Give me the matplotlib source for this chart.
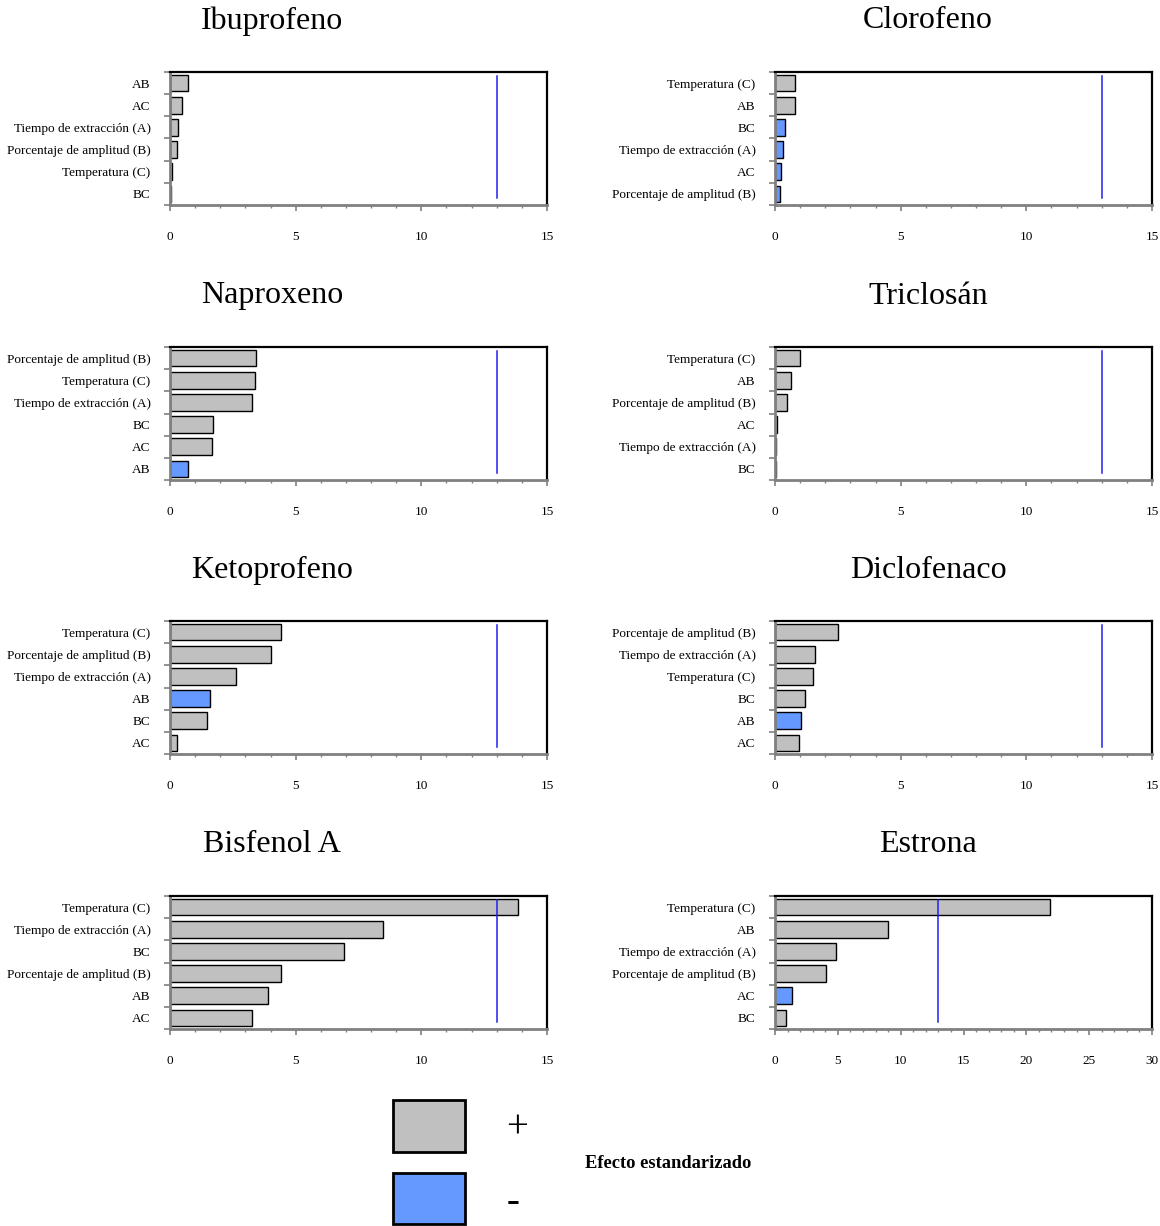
import matplotlib
matplotlib.use("Agg")
import matplotlib.pyplot as plt
from matplotlib.patches import Rectangle
from matplotlib.ticker import MultipleLocator, FixedLocator

plt.rcParams['font.family'] = ['Liberation Serif', 'DejaVu Serif']

GRAY = '#C0C0C0'
BLUE = '#6699FF'

titles = ["Ibuprofeno", "Clorofeno", "Naproxeno", "Triclosán",
          "Ketoprofeno", "Diclofenaco", "Bisfenol A", "Estrona"]

# factors, top to bottom
ibu_labels = ["AB", "AC", "Tiempo de extracción (A)", "Porcentaje de amplitud (B)", "Temperatura (C)", "BC"]
ibu_values = [0.72, 0.49, 0.31, 0.28, 0.08, 0.03]
ibu_neg = [False, False, False, False, False, False]

clo_labels = ["Temperatura (C)", "AB", "BC", "Tiempo de extracción (A)", "AC", "Porcentaje de amplitud (B)"]
clo_values = [0.81, 0.78, 0.41, 0.30, 0.23, 0.19]
clo_neg = [False, False, True, True, True, True]

nap_labels = ["Porcentaje de amplitud (B)", "Temperatura (C)", "Tiempo de extracción (A)", "BC", "AC", "AB"]
nap_values = [3.43, 3.37, 3.26, 1.70, 1.66, 0.71]
nap_neg = [False, False, False, False, False, True]

tri_labels = ["Temperatura (C)", "AB", "Porcentaje de amplitud (B)", "AC", "Tiempo de extracción (A)", "BC"]
tri_values = [0.98, 0.64, 0.47, 0.09, 0.04, 0.04]
tri_neg = [False, False, False, False, False, False]

ket_labels = ["Temperatura (C)", "Porcentaje de amplitud (B)", "Tiempo de extracción (A)", "AB", "BC", "AC"]
ket_values = [4.40, 4.00, 2.64, 1.61, 1.47, 0.27]
ket_neg = [False, False, False, True, False, False]

dic_labels = ["Porcentaje de amplitud (B)", "Tiempo de extracción (A)", "Temperatura (C)", "BC", "AB", "AC"]
dic_values = [2.52, 1.58, 1.50, 1.21, 1.03, 0.97]
dic_neg = [False, False, False, False, True, False]

bis_labels = ["Temperatura (C)", "Tiempo de extracción (A)", "BC", "Porcentaje de amplitud (B)", "AB", "AC"]
bis_values = [13.86, 8.47, 6.93, 4.43, 3.91, 3.27]
bis_neg = [False, False, False, False, False, False]

est_labels = ["Temperatura (C)", "AB", "Tiempo de extracción (A)", "Porcentaje de amplitud (B)", "AC", "BC"]
est_values = [21.9, 8.98, 4.88, 4.02, 1.34, 0.88]
est_neg = [False, False, False, False, True, False]

x_max = [15, 15, 15, 15, 15, 15, 15, 30]
critical = 13.0

panels = [
    (ibu_labels, ibu_values, ibu_neg),
    (clo_labels, clo_values, clo_neg),
    (nap_labels, nap_values, nap_neg),
    (tri_labels, tri_values, tri_neg),
    (ket_labels, ket_values, ket_neg),
    (dic_labels, dic_values, dic_neg),
    (bis_labels, bis_values, bis_neg),
    (est_labels, est_values, est_neg),
]

W, H = 1160, 1226
fig = plt.figure(figsize=(W / 100, H / 100), dpi=100)

col_x = [170, 775]
ax_w = 377
row_top = [72, 347, 621, 896]
ax_h = 133
title_x = [272, 928]
title_y = [21, 296, 570, 845]

for i, (labels, values, neg) in enumerate(panels):
    r, c = divmod(i, 2)
    x0 = col_x[c]
    y0 = row_top[r]
    ax = fig.add_axes([x0 / W, 1 - (y0 + ax_h) / H, ax_w / W, ax_h / H])
    n = len(labels)
    ypos = list(range(n))
    colors = [BLUE if ng else GRAY for ng in neg]
    ax.barh(ypos, values, height=0.75, color=colors, edgecolor='black', linewidth=1.0, zorder=2)
    ax.axvline(critical, ymin=0.05, ymax=0.97, color='#2020F0', linewidth=1.1, zorder=3)
    ax.set_xlim(0, x_max[i])
    ax.set_ylim(n - 0.5, -0.5)
    ax.set_yticks(ypos)
    ax.set_yticklabels(labels, fontsize=9.5)
    ax.yaxis.set_minor_locator(FixedLocator([k - 0.5 for k in range(n + 1)]))
    ax.tick_params(axis='y', which='major', length=0, pad=14)
    ax.tick_params(axis='y', which='minor', length=4, width=1.2, color='#808080', direction='out')
    ax.xaxis.set_major_locator(MultipleLocator(5))
    ax.xaxis.set_minor_locator(MultipleLocator(1))
    ax.tick_params(axis='x', which='major', length=4, width=1.2, color='#808080', labelsize=9.5, pad=15)
    ax.tick_params(axis='x', which='minor', length=2.5, width=1.0, color='#808080')
    for s in ['left', 'bottom']:
        ax.spines[s].set_color('#808080')
        ax.spines[s].set_linewidth(2)
    for s in ['top', 'right']:
        ax.spines[s].set_color('black')
        ax.spines[s].set_linewidth(1.6)
    fig.text(title_x[c] / W, 1 - title_y[r] / H, titles[i], fontsize=23,
             ha='center', va='center')

# legend swatches
fig.add_artist(Rectangle((393 / W, 1 - 1152 / H), 72 / W, 52 / H, transform=fig.transFigure,
                         facecolor=GRAY, edgecolor='black', linewidth=2))
fig.add_artist(Rectangle((393 / W, 1 - 1224 / H), 72 / W, 51 / H, transform=fig.transFigure,
                         facecolor=BLUE, edgecolor='black', linewidth=2))
fig.text(517 / W, 1 - 1128 / H, "+", fontsize=28, ha='center', va='center')
fig.text(513 / W, 1 - 1203 / H, "-", fontsize=28, ha='center', va='center', fontweight='bold')
fig.text(668 / W, 1 - 1163 / H, "Efecto estandarizado", fontsize=13.3, fontweight='bold',
         ha='center', va='center')

fig.savefig("out.png", dpi=100)
